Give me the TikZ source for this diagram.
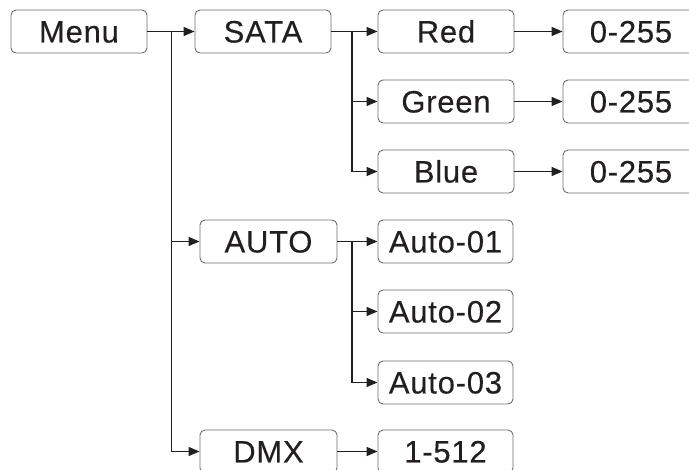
\documentclass[tikz,border=0pt]{standalone}
\usepackage{fontspec}
\setmainfont{Liberation Sans}[LetterSpace=2.5, UprightFeatures={FakeBold=0.3}]
\usetikzlibrary{arrows.meta}
\definecolor{ink}{HTML}{231F20}
\definecolor{edge}{HTML}{6B6B6B}
\tikzset{
  box/.style={draw=edge, line width=0.9pt, rounded corners=5pt, minimum height=43pt,
    inner sep=0pt, text=ink, font=\fontsize{31}{31}\selectfont, text height=22pt, text depth=0pt},
  wbox/.style={box, minimum width=136pt},
  conn/.style={draw=ink, line width=1.4pt, -{Triangle[length=11pt,width=9pt]}},
  plain/.style={draw=ink, line width=1.4pt}
}
\begin{document}
\begin{tikzpicture}[x=1pt,y=-1pt]
\useasboundingbox (0,0) rectangle (689,470);
\node[wbox] (menu) at (79,31.5) {Menu};
\node[wbox] (sata) at (263,31.5) {SATA};
\node[wbox] (red) at (446,31.5) {Red};
\node[wbox] (green) at (446,101.5) {Green};
\node[wbox] (blue) at (446,171.5) {Blue};
\node[wbox] (r0) at (631,31.5) {0-255};
\node[wbox] (g0) at (631,101.5) {0-255};
\node[wbox] (b0) at (631,171.5) {0-255};
\node[box, minimum width=137pt] (auto) at (268.5,241.5) {AUTO};
\node[box, minimum width=135pt] (a1) at (445.5,241.5) {Auto-01};
\node[box, minimum width=135pt] (a2) at (445.5,311.5) {Auto-02};
\node[box, minimum width=135pt] (a3) at (445.5,382.5) {Auto-03};
\node[box, minimum width=137pt] (dmx) at (268.5,451.5) {DMX};
\node[box, minimum width=135pt] (dmxv) at (445.5,451.5) {1-512};
\coordinate (mj) at (171.5,31.5);
\coordinate (sj) at (352,31.5);
\coordinate (aj) at (352,241.5);
\draw[conn] (menu.east) -- (sata.west);
\draw[conn] (mj) |- (auto.west);
\draw[conn] (mj) |- (dmx.west);
\draw[conn] (sata.east) -- (red.west);
\draw[conn] (sj) |- (green.west);
\draw[conn] (sj) |- (blue.west);
\draw[conn] (red.east) -- (r0.west);
\draw[conn] (green.east) -- (g0.west);
\draw[conn] (blue.east) -- (b0.west);
\draw[conn] (auto.east) -- (a1.west);
\draw[conn] (aj) |- (a2.west);
\draw[conn] (aj) |- (a3.west);
\draw[conn] (dmx.east) -- (dmxv.west);
\end{tikzpicture}
\end{document}
